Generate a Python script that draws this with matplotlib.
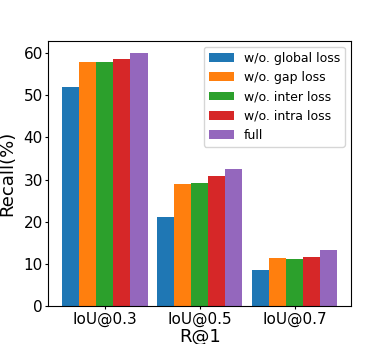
import numpy as np
import matplotlib
matplotlib.use('Agg')
import matplotlib.pyplot as plt

groups = ['IoU@0.3', 'IoU@0.5', 'IoU@0.7']
labels = ['w/o. global loss', 'w/o. gap loss', 'w/o. inter loss',
          'w/o. intra loss', 'full']
global_loss = [51.9, 21.1, 8.4]
gap_loss = [57.9, 28.9, 11.3]
inter_loss = [58.0, 29.2, 11.2]
intra_loss = [58.6, 30.8, 11.6]
full = [60.0, 32.4, 13.2]
series = [global_loss, gap_loss, inter_loss, intra_loss, full]

fig = plt.figure(figsize=(3.9, 3.44), dpi=100)
ax = fig.add_axes([0.124, 0.111, 0.776, 0.771])

x = np.arange(len(groups))
width = 0.18
for i, (vals, lab) in enumerate(zip(series, labels)):
    ax.bar(x + (i - 2) * width, vals, width, label=lab)

ax.set_xticks(x)
ax.set_xticklabels(groups, fontsize=11)
ax.tick_params(axis='both', labelsize=11, length=2.2, pad=1.8)
ax.set_ylabel('Recall(%)', fontsize=13)
ax.set_xlabel('R@1', fontsize=13)
ax.yaxis.set_label_coords(-0.105, 0.5)
ax.xaxis.set_label_coords(0.5, -0.082)
ax.legend(loc='upper right', fontsize=9)

fig.savefig('out.png', dpi=100)
